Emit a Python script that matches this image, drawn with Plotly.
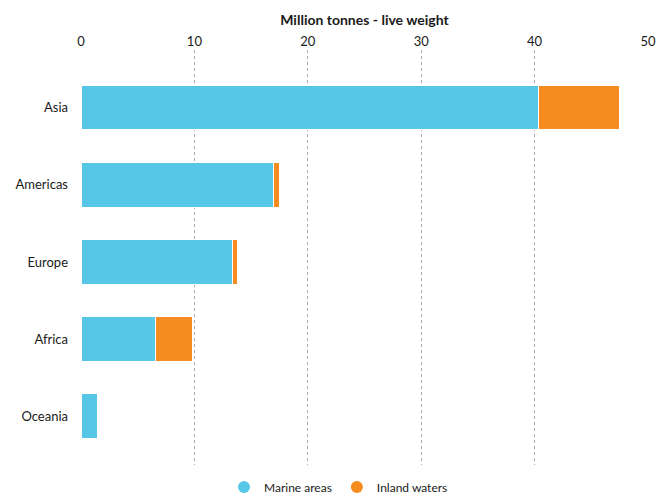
import plotly.graph_objects as go

# ── Datos ─────────────────────────────────────────────────────────────────────
regions = ["Asia", "Americas", "Europe", "Africa", "Oceania"]
marine = [40.3, 17.0, 13.4, 6.6, 1.45]
inland = [7.2, 0.5, 0.4, 3.2, 0.02]
x_ticks = [0, 10, 20, 30, 40, 50]

C = {
    "marine": "#56C7E6",
    "inland": "#F68B1F",
    "grid": "#AAAAAA",
    "text": "#1A1A1A",
}
FONT = "Lato, 'Open Sans', sans-serif"

fig = go.Figure()

for name, vals, color in [("Marine areas", marine, C["marine"]),
                          ("Inland waters", inland, C["inland"])]:
    fig.add_trace(go.Bar(
        y=regions, x=vals, orientation="h", name=name,
        marker=dict(color=color, line=dict(color="white", width=1)),
        width=0.58, showlegend=False,
    ))
    # entrada de leyenda con círculo
    fig.add_trace(go.Scatter(
        x=[None], y=[None], mode="markers", name=name,
        marker=dict(color=color, size=12, symbol="circle"),
    ))

fig.update_layout(
    barmode="stack",
    width=656, height=496,
    paper_bgcolor="white", plot_bgcolor="white",
    font=dict(family=FONT, color=C["text"], size=13),
    margin=dict(l=81, r=8, t=50, b=31),
    legend=dict(
        orientation="h", x=0.516, xanchor="center", xref="container",
        y=0.018, yanchor="middle", yref="container", traceorder="normal",
        font=dict(size=12), itemsizing="constant",
    ),
    xaxis=dict(
        side="top", range=[0, 50], tickvals=x_ticks, automargin=False,
        showgrid=True, gridcolor=C["grid"], griddash="dot", gridwidth=1,
        zeroline=False, showline=False, ticks="",
        tickfont=dict(size=13),
        title=dict(text="<b>Million tonnes - live weight</b>",
                   font=dict(size=14), standoff=4),
    ),
    yaxis=dict(
        type="category", categoryorder="array", categoryarray=regions,
        range=[4.63, -0.745], automargin=False,
        showgrid=False, zeroline=False, showline=False, ticks="",
        ticklabelstandoff=12, tickfont=dict(size=13),
    ),
)

# sin margen del body para que la figura quede en (0, 0)
fig.write_html("out.html", config={"displayModeBar": False},
               post_script="document.body.style.margin='0';")
